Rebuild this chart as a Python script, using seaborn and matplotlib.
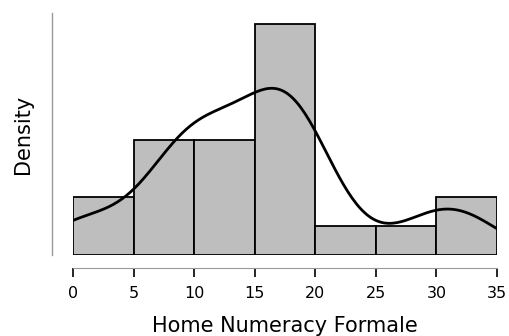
import matplotlib.pyplot as plt
import numpy as np
import seaborn as sns

# scores (bin counts 2, 4, 4, 8, 1, 1, 2)
scores = [0, 2, 8, 8, 9, 9, 11, 12, 12, 13, 16, 17, 17, 17, 18, 18, 18, 19, 21, 29, 31, 33]
bin_edges = [0, 5, 10, 15, 20, 25, 30, 35]
x_ticks = [0, 5, 10, 15, 20, 25, 30, 35]

sns.set_style("white")
plt.rcParams["font.family"] = ["DejaVu Sans"]
plt.rcParams["text.color"] = "black"
plt.rcParams["axes.labelcolor"] = "black"
plt.rcParams["xtick.color"] = "black"

fig = plt.figure(figsize=(5.1, 3.36), dpi=100)
ax = fig.add_axes([73 / 510, 81 / 336, 424 / 510, 242 / 336])

sns.histplot(
    x=scores,
    bins=bin_edges,
    stat="density",
    kde=True,
    color="#bebebe",
    edgecolor="black",
    linewidth=1.3,
    alpha=1,
    kde_kws={"cut": 3, "bw_adjust": 0.75, "clip": (0, 35)},
    line_kws={"linewidth": 2},
    ax=ax,
)
for line in ax.lines:
    line.set_color("black")
    line.set_zorder(3)

dens, _ = np.histogram(scores, bins=bin_edges, density=True)
ax.set_xlim(0, 35)
ax.set_ylim(0, dens.max() * 242 / 231)

ax.set_xticks(x_ticks)
ax.set_yticks([])
ax.tick_params(axis="x", bottom=True, direction="out", length=6.5, width=1.2,
               color="black", labelcolor="black", pad=6.5, labelsize=11.5)

for side in ["top", "right"]:
    ax.spines[side].set_visible(False)
ax.spines["bottom"].set_position(("outward", 9.5))
ax.spines["bottom"].set_bounds(0, 35)
ax.spines["bottom"].set_color("#999999")
ax.spines["left"].set_position(("outward", 15))
ax.spines["left"].set_color("#999999")
ax.spines["left"].set_linewidth(1)

ax.set_xlabel("Home Numeracy Formale", fontsize=15, color="black")
ax.set_ylabel("Density", fontsize=15, color="black")
ax.xaxis.set_label_coords(0.5, -0.252)
ax.yaxis.set_label_coords(-0.094, 0.5)

fig.savefig("out.png", dpi=100)
